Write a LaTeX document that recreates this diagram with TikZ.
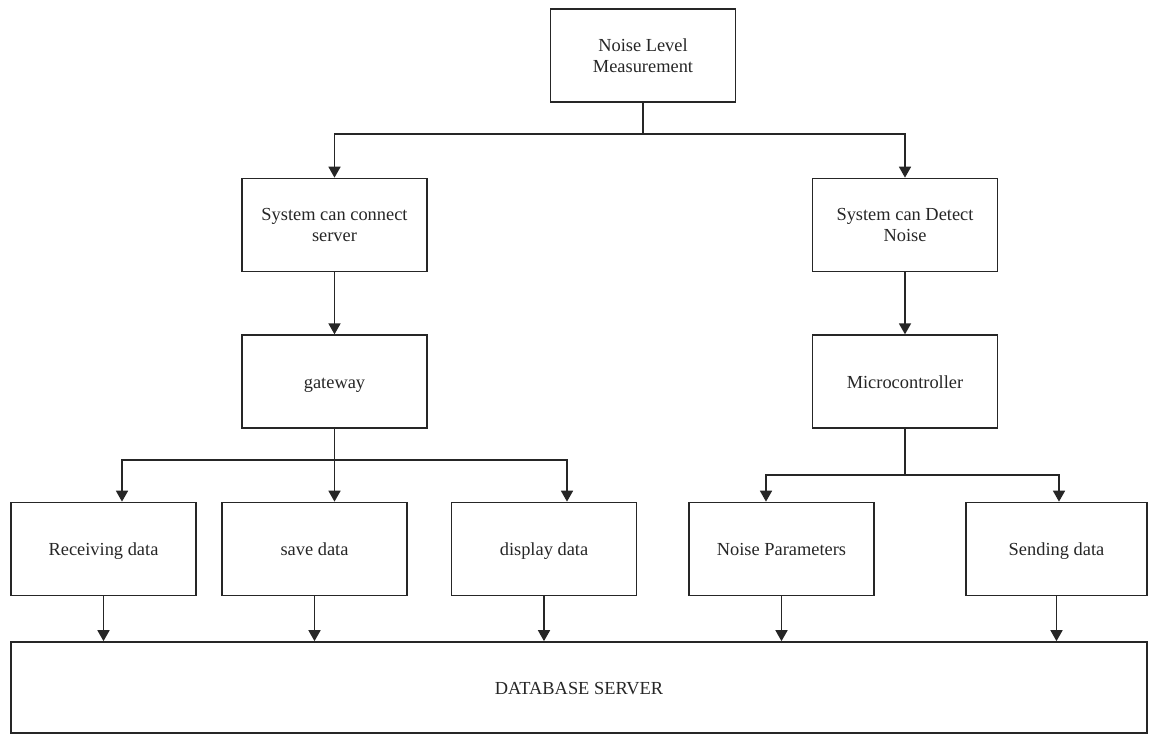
\documentclass[tikz,border=0pt]{standalone}
\usepackage{fontspec}
\setmainfont{Liberation Serif}
\usetikzlibrary{arrows.meta,positioning}
\definecolor{edge}{HTML}{262626}
\tikzset{
  blk/.style={draw=edge, line width=1.7pt, align=center, minimum width=185pt,
              minimum height=93pt, inner sep=2pt, text=black!85,
              font=\fontsize{18.4}{21.5}\selectfont},
  blkone/.style={blk, text height=15pt, text depth=2pt},
  blkarrow/.style={-{Triangle[length=11pt,width=12pt]}, line width=1.7pt, draw=edge},
  blkline/.style={line width=1.7pt, draw=edge}
}
\begin{document}
\begin{tikzpicture}[x=1pt,y=-1pt]
\useasboundingbox (0,0) rectangle (1149,734);
\node[blk] (noise) at (643,55.5) {Noise Level\\Measurement};
\node[blk] (connect) at (334.5,225) {System can connect\\server};
\node[blk] (detect) at (905,225) {System can Detect\\Noise};
\node[blkone, below=62pt of connect] (gateway) {gateway};
\node[blkone, below=62pt of detect] (micro) {Microcontroller};
\node[blkone] (recv) at (103.5,549) {Receiving data};
\node[blkone] (save) at (314.5,549) {save data};
\node[blkone] (disp) at (544,549) {display data};
\node[blkone] (params) at (781.5,549) {Noise Parameters};
\node[blkone, minimum width=181pt] (send) at (1056.5,549) {Sending data};
\node[blkone, minimum width=1136pt, minimum height=91pt] (db) at (579,687.5) {DATABASE SERVER};
% top level
\draw[blkline] (noise.south) -- ++(0,31) coordinate (split);
\draw[blkarrow] (split) -| (connect.north);
\draw[blkarrow] (split) -| (detect.north);
\draw[blkarrow] (connect) -- (gateway);
\draw[blkarrow] (detect) -- (micro);
% gateway side
\draw[blkarrow] (gateway.south) -- ++(0,31) -| ([xshift=18.5pt]recv.north);
\draw[blkarrow] (gateway.south) -- ([xshift=20pt]save.north);
\draw[blkarrow] (gateway.south) -- ++(0,31) -| ([xshift=23pt]disp.north);
% microcontroller side
\draw[blkarrow] (micro.south) -- ++(0,46) -| ([xshift=-15.5pt]params.north);
\draw[blkarrow] (micro.south) -- ++(0,46) -| ([xshift=2.5pt]send.north);
% into the database
\foreach \n in {recv,save,disp,params,send}
  \draw[blkarrow] (\n.south) -- (\n.south |- db.north);
\end{tikzpicture}
\end{document}
